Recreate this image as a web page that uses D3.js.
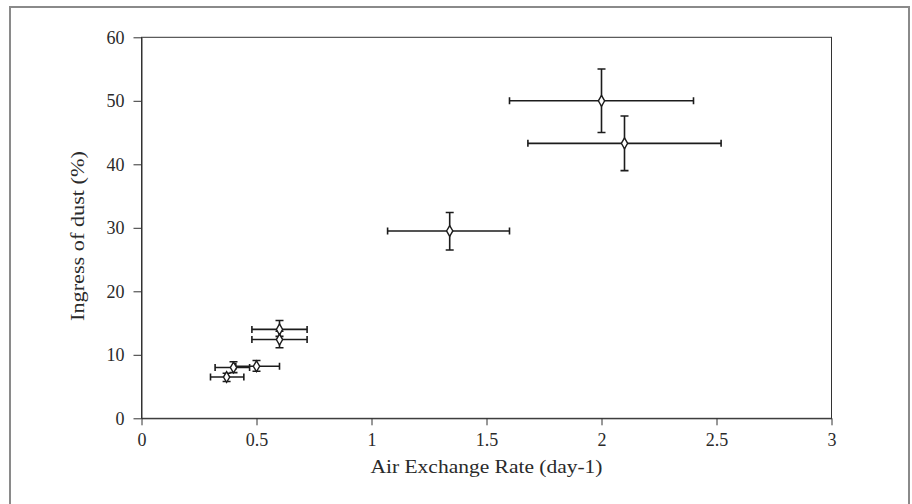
<!DOCTYPE html>
<html>
<head>
<meta charset="utf-8">
<script src="https://cdn.jsdelivr.net/npm/d3@7"></script>
<style>
  html, body { margin: 0; padding: 0; background: #fff; }
  svg { display: block; }
</style>
</head>
<body>
<div id="chart"></div>
<script>
( function () {
	'use strict';

	// Data
	var xVals  = [ 2.0, 2.1, 1.34, 0.6, 0.6, 0.4, 0.5, 0.37 ];
	var yVals  = [ 50.0, 43.3, 29.5, 14.0, 12.4, 8.0, 8.2, 6.5 ];
	var xLow   = [ 1.6, 1.68, 1.07, 0.48, 0.48, 0.32, 0.41, 0.3 ];
	var xHigh  = [ 2.4, 2.52, 1.6, 0.72, 0.72, 0.47, 0.6, 0.445 ];
	var yLow   = [ 45.0, 39.0, 26.5, 12.9, 11.1, 7.2, 7.4, 5.8 ];
	var yHigh  = [ 55.0, 47.6, 32.4, 15.4, 13.7, 8.9, 9.1, 7.1 ];
	var xTicks = [ 0, 0.5, 1, 1.5, 2, 2.5, 3 ];
	var yTicks = [ 0, 10, 20, 30, 40, 50, 60 ];
	var xTitle = 'Air Exchange Rate (day-1)';
	var yTitle = 'Ingress of dust (%)';

	var rows = xVals.map( function ( v, i ) {
		return { x: v, y: yVals[ i ], x0: xLow[ i ], x1: xHigh[ i ], y0: yLow[ i ], y1: yHigh[ i ] };
	} );

	var COLORS = {
		frame: '#8a8a8a',
		axis:  '#333',
		bar:   '#1c1c1c',
		text:  '#2a2a2a'
	};
	var FONT = '"Liberation Serif", "DejaVu Serif", serif';

	var width = 912, height = 504;
	var svg = d3.select( '#chart' ).append( 'svg' )
		.attr( 'width', width )
		.attr( 'height', height );

	// Outer figure frame (bottom edge runs off the page)
	svg.append( 'path' )
		.attr( 'd', 'M10,510V7H909V510' )
		.attr( 'fill', 'none' )
		.attr( 'stroke', COLORS.frame )
		.attr( 'stroke-width', 2 );

	var x = d3.scaleLinear().domain( [ 0, 3 ] ).range( [ 141.5, 831.5 ] );
	var y = d3.scaleLinear().domain( [ 0, 60 ] ).range( [ 418.3, 37.3 ] );

	// Plot box
	svg.append( 'rect' )
		.attr( 'x', x( 0 ) )
		.attr( 'y', y( 60 ) )
		.attr( 'width', x( 3 ) - x( 0 ) )
		.attr( 'height', y( 0 ) - y( 60 ) )
		.attr( 'fill', 'none' )
		.attr( 'stroke', COLORS.axis )
		.attr( 'stroke-width', 1 );

	function styleAxis( s ) {
		s.attr( 'font-size', null ).attr( 'font-family', null );
		s.select( '.domain' ).attr( 'stroke', COLORS.axis );
		s.selectAll( 'line' ).attr( 'stroke', COLORS.axis );
		s.selectAll( 'text' )
			.attr( 'fill', COLORS.text )
			.style( 'font-family', FONT )
			.style( 'font-size', '18px' );
	}

	svg.append( 'g' )
		.attr( 'transform', 'translate(0,' + y( 0 ) + ')' )
		.call( d3.axisBottom( x ).tickValues( xTicks ).tickSize( 7 ).tickSizeOuter( 0 ).tickPadding( 8 )
			.tickFormat( function ( v ) { return String( v ); } ) )
		.call( styleAxis );

	svg.append( 'g' )
		.attr( 'transform', 'translate(' + x( 0 ) + ',0)' )
		.call( d3.axisLeft( y ).tickValues( yTicks ).tickSize( 8 ).tickSizeOuter( 0 ).tickPadding( 9 )
			.tickFormat( function ( v ) { return String( v ); } ) )
		.call( styleAxis );

	// Axis titles
	svg.append( 'text' )
		.attr( 'x', ( x( 0 ) + x( 3 ) ) / 2 )
		.attr( 'y', 473 )
		.attr( 'text-anchor', 'middle' )
		.attr( 'fill', COLORS.text )
		.attr( 'textLength', 232 )
		.attr( 'lengthAdjust', 'spacingAndGlyphs' )
		.style( 'font-family', FONT )
		.style( 'font-size', '18px' )
		.text( xTitle );

	svg.append( 'text' )
		.attr( 'transform', 'translate(84,236) rotate(-90)' )
		.attr( 'text-anchor', 'middle' )
		.attr( 'fill', COLORS.text )
		.attr( 'textLength', 170 )
		.attr( 'lengthAdjust', 'spacingAndGlyphs' )
		.style( 'font-family', FONT )
		.style( 'font-size', '18px' )
		.text( yTitle );

	// Error bars
	var g = svg.append( 'g' )
		.attr( 'stroke', COLORS.bar )
		.attr( 'stroke-width', 1.6 )
		.attr( 'fill', 'none' );

	var capH = 3.5, capV = 4;
	g.selectAll( 'path.xerr' )
		.data( rows )
		.join( 'path' )
		.attr( 'class', 'xerr' )
		.attr( 'd', function ( d ) {
			var a = x( d.x0 ), b = x( d.x1 ), c = y( d.y );
			return 'M' + a + ',' + ( c - capH ) + 'V' + ( c + capH ) +
				'M' + a + ',' + c + 'H' + b +
				'M' + b + ',' + ( c - capH ) + 'V' + ( c + capH );
		} );

	g.selectAll( 'path.yerr' )
		.data( rows )
		.join( 'path' )
		.attr( 'class', 'yerr' )
		.attr( 'd', function ( d ) {
			var a = y( d.y1 ), b = y( d.y0 ), c = x( d.x );
			return 'M' + ( c - capV ) + ',' + a + 'H' + ( c + capV ) +
				'M' + c + ',' + a + 'V' + b +
				'M' + ( c - capV ) + ',' + b + 'H' + ( c + capV );
		} );

	// Markers: open diamonds
	svg.append( 'g' )
		.selectAll( 'path' )
		.data( rows )
		.join( 'path' )
		.attr( 'transform', function ( d ) { return 'translate(' + x( d.x ) + ',' + y( d.y ) + ')'; } )
		.attr( 'd', d3.symbol().type( d3.symbolDiamond ).size( 34 ) )
		.attr( 'fill', '#fff' )
		.attr( 'stroke', COLORS.bar )
		.attr( 'stroke-width', 1.4 );
} )();
</script>
</body>
</html>
